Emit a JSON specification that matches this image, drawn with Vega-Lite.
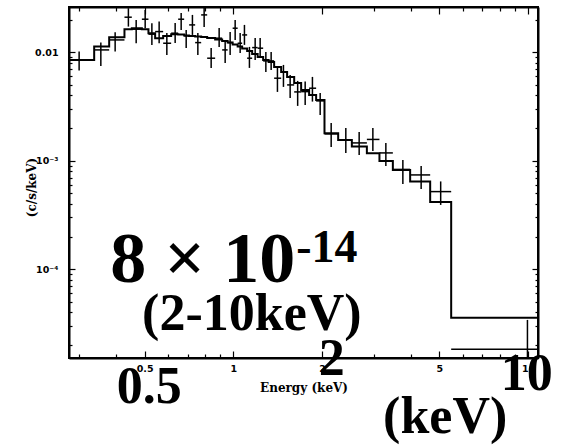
{
  "$schema": "https://vega.github.io/schema/vega-lite/v6.json",
  "width": 469,
  "height": 351,
  "autosize": {"type": "none"},
  "padding": {"left": 69, "top": 7, "right": 27, "bottom": 87},
  "background": "white",
  "config": {
    "view": {"stroke": "black", "strokeWidth": 2},
    "axis": {
      "domainColor": "black", "domainWidth": 2,
      "tickColor": "black", "tickWidth": 1.2,
      "labelFont": "DejaVu Sans", "labelFontWeight": "bold", "labelFontSize": 9.5, "labelColor": "black",
      "titleFont": "DejaVu Serif", "titleFontWeight": "bold", "titleFontSize": 12, "titleColor": "black",
      "grid": false
    }
  },
  "datasets": {
    "model": [
      {"e": 0.25, "f": 0.008492},
      {"e": 0.3372, "f": 0.01126},
      {"e": 0.3791, "f": 0.01375},
      {"e": 0.4272, "f": 0.01629},
      {"e": 0.4524, "f": 0.01664},
      {"e": 0.4894, "f": 0.01629},
      {"e": 0.5152, "f": 0.01497},
      {"e": 0.5429, "f": 0.01346},
      {"e": 0.5779, "f": 0.01413},
      {"e": 0.6152, "f": 0.01466},
      {"e": 0.6498, "f": 0.01459},
      {"e": 0.681, "f": 0.01428},
      {"e": 0.708, "f": 0.01413},
      {"e": 0.742, "f": 0.01398},
      {"e": 0.7777, "f": 0.01384},
      {"e": 0.815, "f": 0.01355},
      {"e": 0.8675, "f": 0.01312},
      {"e": 0.9162, "f": 0.01271},
      {"e": 0.9565, "f": 0.01231},
      {"e": 0.9945, "f": 0.0118},
      {"e": 1.0342, "f": 0.01131},
      {"e": 1.0711, "f": 0.01084},
      {"e": 1.1137, "f": 0.01028},
      {"e": 1.1582, "f": 0.009645},
      {"e": 1.209, "f": 0.009051},
      {"e": 1.2621, "f": 0.008492},
      {"e": 1.3174, "f": 0.00814},
      {"e": 1.3752, "f": 0.00732},
      {"e": 1.4527, "f": 0.006583},
      {"e": 1.5218, "f": 0.005921},
      {"e": 1.6083, "f": 0.005213},
      {"e": 1.6981, "f": 0.004493},
      {"e": 1.8072, "f": 0.004041},
      {"e": 1.9089, "f": 0.003635},
      {"e": 2.0378, "f": 0.001792},
      {"e": 2.2675, "f": 0.001554},
      {"e": 2.5232, "f": 0.001349},
      {"e": 2.8374, "f": 0.001172},
      {"e": 3.1304, "f": 0.0009958},
      {"e": 3.4758, "f": 0.0008227},
      {"e": 3.9786, "f": 0.0006417},
      {"e": 4.6523, "f": 0.0004172},
      {"e": 5.4816, "f": 0.0000358},
      {"e": 12.84, "f": 0.0000358}
    ],
    "obs": [
      {"e": 0.2998, "elo": 0.25, "ehi": 0.3372, "f": 0.008492, "flo": 0.006767, "fhi": 0.01013},
      {"e": 0.3552, "elo": 0.3372, "ehi": 0.3791, "f": 0.0105, "flo": 0.007477, "fhi": 0.01226},
      {"e": 0.3972, "elo": 0.3791, "ehi": 0.4272, "f": 0.01298, "flo": 0.01013, "fhi": 0.01529},
      {"e": 0.4405, "elo": 0.4272, "ehi": 0.4524, "f": 0.02102, "flo": 0.01722, "fhi": 0.02544},
      {"e": 0.4681, "elo": 0.4524, "ehi": 0.4894, "f": 0.01629, "flo": 0.0121, "fhi": 0.01985},
      {"e": 0.5022, "elo": 0.4894, "ehi": 0.5152, "f": 0.02014, "flo": 0.01664, "fhi": 0.02454},
      {"e": 0.5292, "elo": 0.5152, "ehi": 0.5429, "f": 0.01466, "flo": 0.01168, "fhi": 0.01851},
      {"e": 0.5601, "elo": 0.5429, "ehi": 0.5779, "f": 0.01549, "flo": 0.0121, "fhi": 0.01914},
      {"e": 0.5948, "elo": 0.5779, "ehi": 0.6152, "f": 0.0121, "flo": 0.009443, "fhi": 0.01507},
      {"e": 0.6347, "elo": 0.6152, "ehi": 0.6498, "f": 0.01497, "flo": 0.01218, "fhi": 0.01862},
      {"e": 0.6652, "elo": 0.6498, "ehi": 0.681, "f": 0.02014, "flo": 0.01605, "fhi": 0.02303},
      {"e": 0.6918, "elo": 0.681, "ehi": 0.708, "f": 0.01413, "flo": 0.01096, "fhi": 0.01605},
      {"e": 0.7264, "elo": 0.708, "ehi": 0.742, "f": 0.01785, "flo": 0.01443, "fhi": 0.02207},
      {"e": 0.7578, "elo": 0.742, "ehi": 0.7777, "f": 0.01226, "flo": 0.009443, "fhi": 0.01507},
      {"e": 0.796, "elo": 0.7777, "ehi": 0.815, "f": 0.02207, "flo": 0.01711, "fhi": 0.02561},
      {"e": 0.8408, "elo": 0.815, "ehi": 0.8675, "f": 0.008805, "flo": 0.007166, "fhi": 0.01096},
      {"e": 0.895, "elo": 0.8675, "ehi": 0.9162, "f": 0.01346, "flo": 0.01119, "fhi": 0.01675},
      {"e": 0.938, "elo": 0.9162, "ehi": 0.9565, "f": 0.0105, "flo": 0.007969, "fhi": 0.01298},
      {"e": 0.9752, "elo": 0.9565, "ehi": 0.9945, "f": 0.01226, "flo": 0.009443, "fhi": 0.01539},
      {"e": 1.0142, "elo": 0.9945, "ehi": 1.0342, "f": 0.01664, "flo": 0.01298, "fhi": 0.01985},
      {"e": 1.0546, "elo": 1.0342, "ehi": 1.0711, "f": 0.0121, "flo": 0.009852, "fhi": 0.01507},
      {"e": 1.0905, "elo": 1.0711, "ehi": 1.1137, "f": 0.01443, "flo": 0.01168, "fhi": 0.01785},
      {"e": 1.1338, "elo": 1.1137, "ehi": 1.1582, "f": 0.008805, "flo": 0.007166, "fhi": 0.01119},
      {"e": 1.1857, "elo": 1.1582, "ehi": 1.209, "f": 0.01103, "flo": 0.008492, "fhi": 0.01355},
      {"e": 1.2328, "elo": 1.209, "ehi": 1.2621, "f": 0.01089, "flo": 0.009051, "fhi": 0.01355},
      {"e": 1.289, "elo": 1.2621, "ehi": 1.3174, "f": 0.008314, "flo": 0.006583, "fhi": 0.01006},
      {"e": 1.3434, "elo": 1.3174, "ehi": 1.3752, "f": 0.008314, "flo": 0.006869, "fhi": 0.01006},
      {"e": 1.4111, "elo": 1.3752, "ehi": 1.4527, "f": 0.00576, "flo": 0.004306, "fhi": 0.007166},
      {"e": 1.4789, "elo": 1.4527, "ehi": 1.5218, "f": 0.006583, "flo": 0.004788, "fhi": 0.007637},
      {"e": 1.5583, "elo": 1.5218, "ehi": 1.6083, "f": 0.004996, "flo": 0.003791, "fhi": 0.006177},
      {"e": 1.6525, "elo": 1.6083, "ehi": 1.6981, "f": 0.004306, "flo": 0.0032, "fhi": 0.005439},
      {"e": 1.7524, "elo": 1.6981, "ehi": 1.8072, "f": 0.004334, "flo": 0.003268, "fhi": 0.005358},
      {"e": 1.8546, "elo": 1.8072, "ehi": 1.9089, "f": 0.004658, "flo": 0.003506, "fhi": 0.005921},
      {"e": 1.9701, "elo": 1.9089, "ehi": 2.0378, "f": 0.003559, "flo": 0.002643, "fhi": 0.004216},
      {"e": 2.147, "elo": 2.0378, "ehi": 2.2675, "f": 0.001766, "flo": 0.00134, "fhi": 0.002231},
      {"e": 2.4071, "elo": 2.2675, "ehi": 2.5232, "f": 0.001554, "flo": 0.00118, "fhi": 0.002006},
      {"e": 2.6715, "elo": 2.5232, "ehi": 2.8374, "f": 0.001459, "flo": 0.001131, "fhi": 0.001842},
      {"e": 2.9733, "elo": 2.8374, "ehi": 3.1304, "f": 0.001571, "flo": 0.001231, "fhi": 0.002006},
      {"e": 3.2909, "elo": 3.1304, "ehi": 3.4758, "f": 0.00118, "flo": 0.0008955, "fhi": 0.001459},
      {"e": 3.7584, "elo": 3.4758, "ehi": 3.9786, "f": 0.0008315, "flo": 0.0006111, "fhi": 0.001017},
      {"e": 4.3354, "elo": 3.9786, "ehi": 4.6523, "f": 0.0007397, "flo": 0.0005496, "fhi": 0.0008955},
      {"e": 5.0499, "elo": 4.6523, "ehi": 5.4816, "f": 0.0005191, "flo": 0.0003914, "fhi": 0.0006444},
      {"e": 9.945, "elo": 5.4816, "ehi": 12.84, "f": 0.00001831, "flo": 0.00000408, "fhi": 0.0000341}
    ],
    "big": [{"t": "8 × 10", "e": 0.3821, "f": 0.00007686}],
    "sup": [{"t": "-14", "e": 1.633, "f": 0.0001175}],
    "ann": [
      {"t": "(2-10keV)", "e": 1.1555, "f": 0.00002758},
      {"t": "0.5", "e": 0.5189, "f": 0.000005821},
      {"t": "2", "e": 2.155, "f": 0.00001061},
      {"t": "10", "e": 9.884, "f": 0.00000772},
      {"t": "(keV)", "e": 5.23, "f": 0.000003098}
    ]
  },
  "resolve": {"axis": {"x": "independent", "y": "independent"}},
  "layer": [
    {
      "data": {"name": "model"},
      "mark": {"type": "line", "interpolate": "step-after", "color": "black", "strokeWidth": 2, "clip": true},
      "encoding": {
        "x": {"field": "e", "type": "quantitative",
          "scale": {"type": "log", "domain": [0.277, 10.8], "nice": false},
          "axis": {
            "orient": "bottom",
            "values": [0.3, 0.4, 0.5, 0.6, 0.7, 0.8, 0.9, 1, 2, 3, 4, 5, 6, 7, 8, 9, 10],
            "labelExpr": "indexof([0.5, 1, 2, 5, 10], datum.value) >= 0 ? format(datum.value, '~g') : ''",
            "tickSize": {"condition": {"test": "indexof([0.5, 1, 2, 5, 10], datum.value) >= 0", "value": -7}, "value": -4},
            "labelPadding": 12,
            "labelFlush": false,
            "labelOverlap": false,
            "title": "Energy (keV)",
            "titleX": 234.5,
            "titleY": 33,
            "titleBaseline": "alphabetic"
          }
        },
        "y": {"field": "f", "type": "quantitative",
          "scale": {"type": "log", "domain": [0.0000152, 0.0261], "nice": false},
          "axis": {
            "orient": "left",
            "values": [0.00002, 0.00003, 0.00004, 0.00005, 0.00006, 0.00007, 0.00008, 0.00009, 0.0001, 0.0002, 0.0003, 0.0004, 0.0005, 0.0006, 0.0007, 0.0008, 0.0009, 0.001, 0.002, 0.003, 0.004, 0.005, 0.006, 0.007, 0.008, 0.009, 0.01, 0.02],
            "labelExpr": "datum.value == 0.01 ? '0.01' : datum.value == 0.001 ? '10⁻³' : datum.value == 0.0001 ? '10⁻⁴' : ''",
            "tickSize": {"condition": {"test": "datum.value == 0.01 || datum.value == 0.001 || datum.value == 0.0001", "value": -6}, "value": -3},
            "labelPadding": 17,
            "labelFlush": false,
            "labelOverlap": false,
            "title": "(c/s/keV)",
            "titleX": -38,
            "titleY": 180,
            "titleAngle": -90,
            "titleAlign": "center",
            "titleBaseline": "middle"
          }
        }
      }
    },
    {
      "data": {"name": "obs"},
      "mark": {"type": "rule", "color": "black", "strokeWidth": 1.5, "clip": true},
      "encoding": {
        "x": {"field": "elo", "type": "quantitative", "scale": {"type": "log", "domain": [0.277, 10.8], "nice": false}, "axis": null},
        "x2": {"field": "ehi"},
        "y": {"field": "f", "type": "quantitative", "scale": {"type": "log", "domain": [0.0000152, 0.0261], "nice": false}, "axis": null}
      }
    },
    {
      "data": {"name": "obs"},
      "mark": {"type": "rule", "color": "black", "strokeWidth": 1.5, "clip": true},
      "encoding": {
        "x": {"field": "e", "type": "quantitative", "scale": {"type": "log", "domain": [0.277, 10.8], "nice": false}, "axis": null},
        "y": {"field": "flo", "type": "quantitative", "scale": {"type": "log", "domain": [0.0000152, 0.0261], "nice": false}, "axis": null},
        "y2": {"field": "fhi"}
      }
    },
    {
      "data": {"name": "big"},
      "mark": {"type": "text", "font": "Liberation Serif", "fontWeight": "bold", "fontSize": 72, "align": "left", "baseline": "alphabetic", "color": "black"},
      "encoding": {
        "x": {"field": "e", "type": "quantitative", "scale": {"type": "log", "domain": [0.277, 10.8], "nice": false}, "axis": null},
        "y": {"field": "f", "type": "quantitative", "scale": {"type": "log", "domain": [0.0000152, 0.0261], "nice": false}, "axis": null},
        "text": {"field": "t"}
      }
    },
    {
      "data": {"name": "sup"},
      "mark": {"type": "text", "font": "Liberation Serif", "fontWeight": "bold", "fontSize": 46, "align": "left", "baseline": "alphabetic", "color": "black"},
      "encoding": {
        "x": {"field": "e", "type": "quantitative", "scale": {"type": "log", "domain": [0.277, 10.8], "nice": false}, "axis": null},
        "y": {"field": "f", "type": "quantitative", "scale": {"type": "log", "domain": [0.0000152, 0.0261], "nice": false}, "axis": null},
        "text": {"field": "t"}
      }
    },
    {
      "data": {"name": "ann"},
      "mark": {"type": "text", "font": "Liberation Serif", "fontWeight": "bold", "fontSize": 52, "align": "center", "baseline": "alphabetic", "color": "black"},
      "encoding": {
        "x": {"field": "e", "type": "quantitative", "scale": {"type": "log", "domain": [0.277, 10.8], "nice": false}, "axis": null},
        "y": {"field": "f", "type": "quantitative", "scale": {"type": "log", "domain": [0.0000152, 0.0261], "nice": false}, "axis": null},
        "text": {"field": "t"}
      }
    },
    {
      "data": {"name": "model"},
      "mark": {"type": "point", "opacity": 0},
      "encoding": {
        "x": {"field": "e", "type": "quantitative",
          "scale": {"type": "log", "domain": [0.277, 10.8], "nice": false},
          "axis": {
            "orient": "top",
            "values": [0.3, 0.4, 0.5, 0.6, 0.7, 0.8, 0.9, 1, 2, 3, 4, 5, 6, 7, 8, 9, 10],
            "labels": false,
            "tickSize": {"condition": {"test": "indexof([0.5, 1, 2, 5, 10], datum.value) >= 0", "value": -7}, "value": -4},
            "title": null
          }
        },
        "y": {"field": "f", "type": "quantitative",
          "scale": {"type": "log", "domain": [0.0000152, 0.0261], "nice": false},
          "axis": {
            "orient": "right",
            "values": [0.00002, 0.00003, 0.00004, 0.00005, 0.00006, 0.00007, 0.00008, 0.00009, 0.0001, 0.0002, 0.0003, 0.0004, 0.0005, 0.0006, 0.0007, 0.0008, 0.0009, 0.001, 0.002, 0.003, 0.004, 0.005, 0.006, 0.007, 0.008, 0.009, 0.01, 0.02],
            "labels": false,
            "tickSize": {"condition": {"test": "datum.value == 0.01 || datum.value == 0.001 || datum.value == 0.0001", "value": -6}, "value": -3},
            "title": null
          }
        }
      }
    }
  ]
}
